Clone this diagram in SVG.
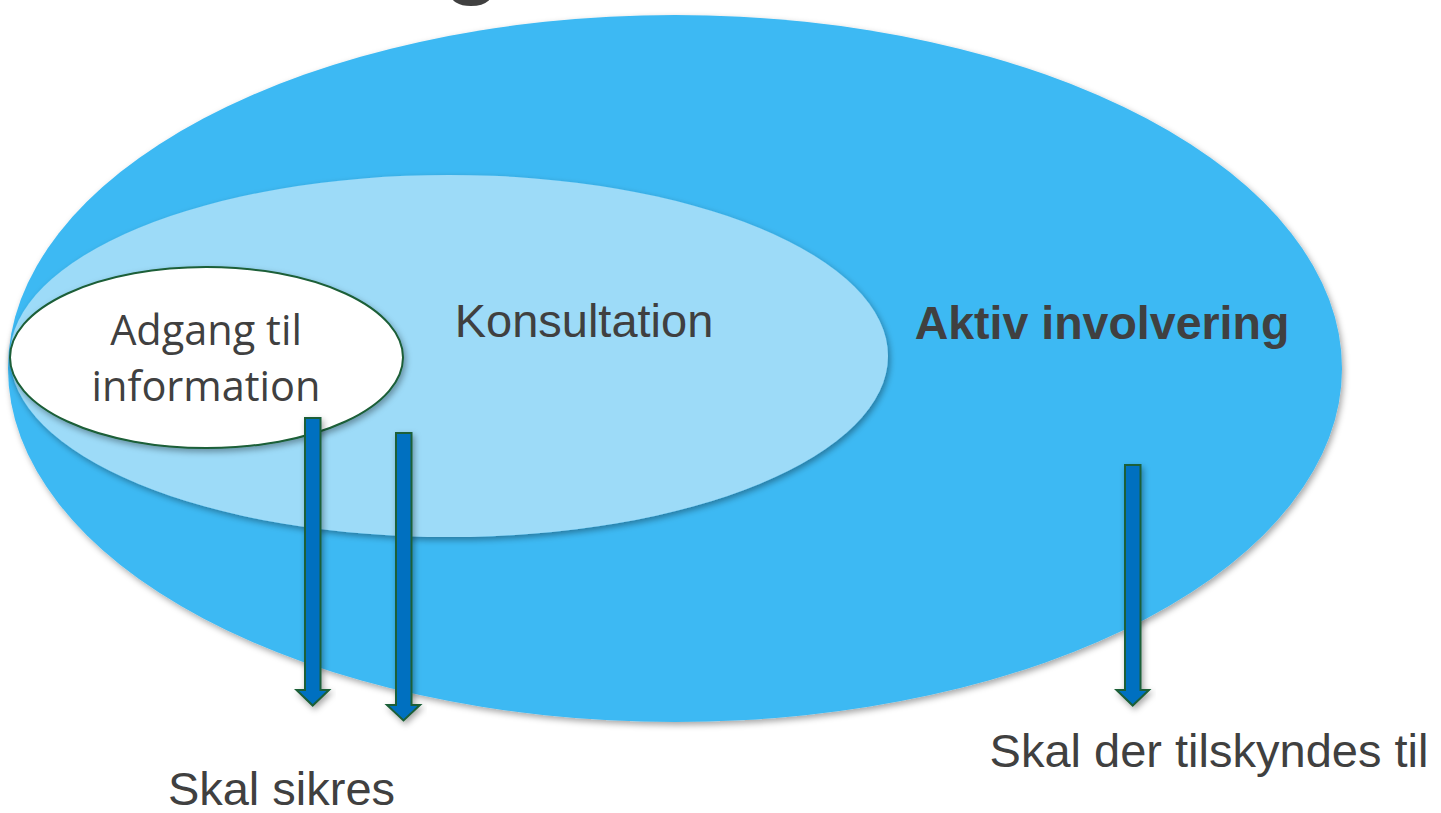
<svg xmlns="http://www.w3.org/2000/svg" width="1441" height="813" viewBox="0 0 1441 813">
  <style>
    .lbl { font-family: "Liberation Sans", Arial, sans-serif; fill: #404040; }
    .inner { font-family: "Open Sans", "Liberation Sans", sans-serif; fill: #404040; font-size: 41.5px; }
    .arrow { fill: #0070C0; stroke: #1B5E37; stroke-width: 2; filter: url(#shadow); }
  </style>
  <defs>
    <filter id="shadow" x="-20%" y="-20%" width="140%" height="140%">
      <feDropShadow dx="2" dy="3" stdDeviation="3" flood-color="#000" flood-opacity="0.35"/>
    </filter>
  </defs>
  <rect width="1441" height="813" fill="#ffffff"/>
  <text class="lbl" x="443" y="-14" font-size="96" font-weight="bold">g</text>

  <g id="aktiv-involvering">
    <ellipse cx="675" cy="368.5" rx="667" ry="353.5" fill="#3DB9F3" filter="url(#shadow)"/>
    <text class="lbl" x="1102" y="339" font-size="46.5" font-weight="bold" text-anchor="middle">Aktiv involvering</text>
  </g>
  <g id="konsultation">
    <ellipse cx="449" cy="356" rx="439" ry="181" fill="#9DDBF8" filter="url(#shadow)"/>
    <text class="lbl" x="584" y="337" font-size="47" text-anchor="middle">Konsultation</text>
  </g>
  <g id="adgang">
    <ellipse cx="206.5" cy="357.5" rx="196.5" ry="90.5" fill="#ffffff" stroke="#1B5E37" stroke-width="2" filter="url(#shadow)"/>
    <text class="inner" x="206" y="345" text-anchor="middle">Adgang til</text>
    <text class="inner" x="206" y="401" text-anchor="middle">information</text>
  </g>

  <g id="connectors">
    <path class="arrow" d="M305,418 H320.5 V690 H329 L312.7,705.5 L296.5,690 H305 Z"/>
    <path class="arrow" d="M396,433 H411.5 V705 H420 L403.5,720.5 L387,705 H396 Z"/>
    <path class="arrow" d="M1125,465 H1140.5 V690 H1149 L1132.7,705.5 L1116.5,690 H1125 Z"/>
  </g>

  <g id="skal-sikres">
    <text class="lbl" x="281.5" y="805" font-size="47" text-anchor="middle">Skal sikres</text>
  </g>
  <g id="skal-tilskyndes">
    <text class="lbl" x="1209" y="767" font-size="47" text-anchor="middle">Skal der tilskyndes til</text>
  </g>
</svg>
